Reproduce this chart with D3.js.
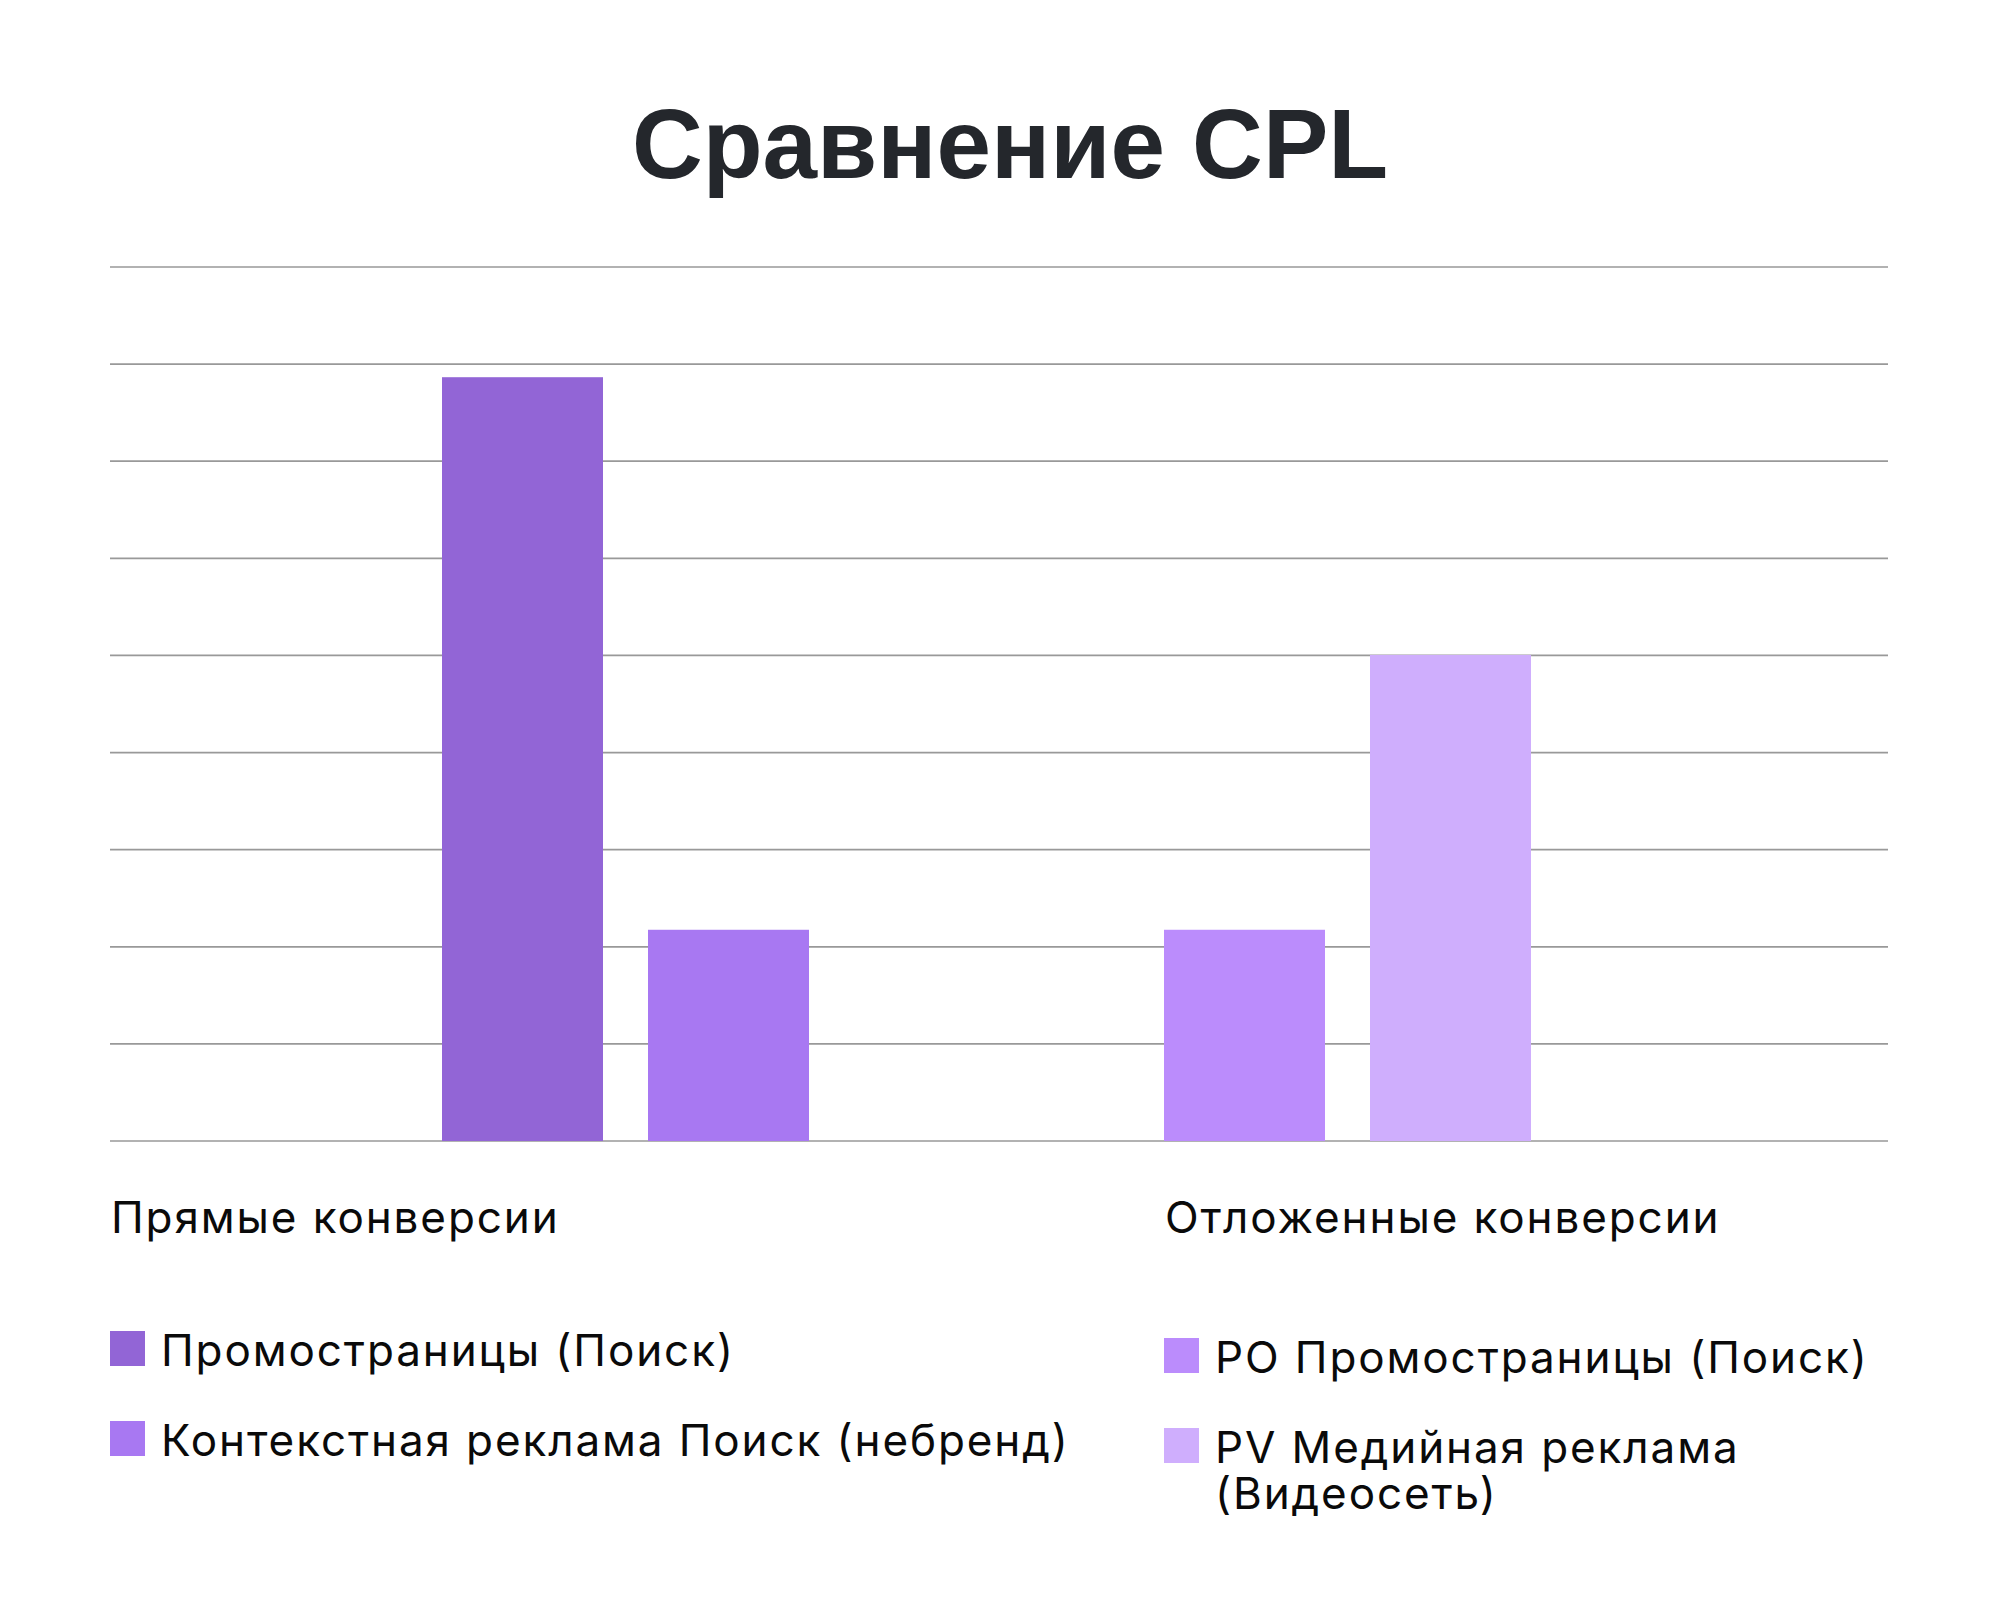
<!DOCTYPE html>
<html>
<head>
<meta charset="utf-8">
<script src="https://cdn.jsdelivr.net/npm/d3@7"></script>
<style>
  html, body { margin: 0; padding: 0; background: #ffffff; }
  svg { display: block; }
</style>
</head>
<body>
<svg id="chart" width="1997" height="1613"></svg>
<script>
// ---- data ----
const title = "Сравнение CPL";
const groups = ["Прямые конверсии", "Отложенные конверсии"];
const seriesNames = [
  [["Промостраницы (Поиск)"], ["Контекстная реклама Поиск (небренд)"]],
  [["PO Промостраницы (Поиск)"], ["PV Медийная реклама", "(Видеосеть)"]]
];
const seriesValues = [
  [7.86, 2.17],
  [2.17, 5.0]
];
const gridTicks = [0, 1, 2, 3, 4, 5, 6, 7, 8, 9];
const colors = [["#9265d6", "#a878f2"], ["#bb8cfc", "#cfaefd"]];

// ---- layout ----
const plotLeft = 110, plotRight = 1888;
const plotTop = 266.5, plotBottom = 1140.5;
const fontMain = "Inter, 'Noto Sans', sans-serif";
const legendSpacing = 1.9;

const svg = d3.select("#chart");

svg.append("text")
  .attr("x", 1010).attr("y", 178)
  .attr("text-anchor", "middle")
  .attr("font-family", "'Liberation Sans', Arial, sans-serif")
  .attr("font-weight", 700)
  .attr("font-size", 98)
  .attr("fill", "#24272c")
  .text(title);

const y = d3.scaleLinear().domain([0, 9]).range([plotBottom, plotTop]);
const x0 = d3.scaleBand().domain(groups).range([264.5, 1708.5]).padding(0);
const x1 = d3.scaleBand().domain([0, 1]).range([177.5, 544.5]).paddingInner(45 / 206).paddingOuter(0);

// gridlines
const yAxis = d3.axisLeft(y).tickValues(gridTicks).tickSize(-(plotRight - plotLeft)).tickFormat("");
const ga = svg.append("g").attr("transform", `translate(${plotLeft},0)`).call(yAxis);
ga.select(".domain").remove();
ga.selectAll(".tick text").remove();
ga.selectAll(".tick line").attr("stroke", "#999999").attr("stroke-width", 1.7);

// bars
const data = [];
groups.forEach((g, gi) => seriesValues[gi].forEach((v, si) => data.push({ g, gi, si, v })));
svg.append("g").selectAll("rect").data(data).join("rect")
  .attr("x", d => x0(d.g) + x1(d.si))
  .attr("width", x1.bandwidth())
  .attr("y", d => y(d.v))
  .attr("height", d => y(0) - y(d.v) + 0.5)
  .attr("fill", d => colors[d.gi][d.si]);

// legend blocks
const legendX = [plotLeft, x0(groups[1]) + x1(0)];
const headBase = 1233;
const itemTops = [[1331, 1421], [1338, 1428]];
const sq = 35;
const lineGap = 46;

groups.forEach((g, gi) => {
  const lg = svg.append("g");
  lg.append("text")
    .attr("x", legendX[gi] + 1).attr("y", headBase)
    .attr("font-family", fontMain).attr("font-size", 44)
    .attr("letter-spacing", legendSpacing)
    .attr("fill", "#0a0a0a")
    .text(g);
  seriesNames[gi].forEach((lines, si) => {
    const top = itemTops[gi][si];
    lg.append("rect")
      .attr("x", legendX[gi]).attr("y", top)
      .attr("width", sq).attr("height", sq)
      .attr("fill", colors[gi][si]);
    lines.forEach((ln, li) => {
      lg.append("text")
        .attr("x", legendX[gi] + 51).attr("y", top + sq + li * lineGap)
        .attr("font-family", fontMain).attr("font-size", 44)
        .attr("letter-spacing", legendSpacing)
        .attr("fill", "#0a0a0a")
        .text(ln);
    });
  });
});
</script>
</body>
</html>
